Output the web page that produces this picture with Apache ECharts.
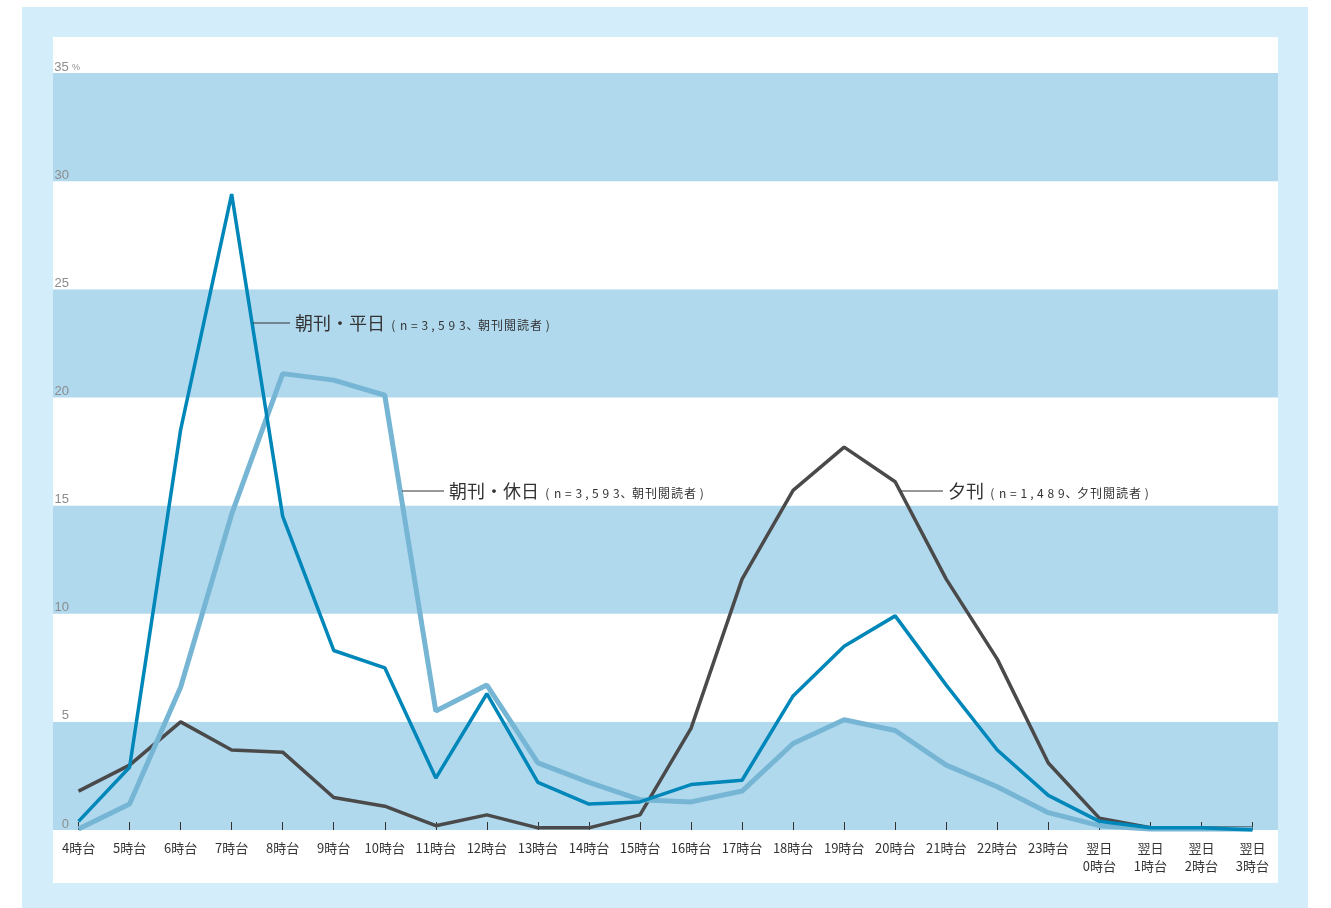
<!DOCTYPE html>
<html lang="ja">
<head>
<meta charset="utf-8">
<title>新聞を読む時間帯</title>
<script src="https://cdn.jsdelivr.net/npm/echarts@6/dist/echarts.min.js"></script>
<style>
  html, body { margin: 0; padding: 0; background: #ffffff; }
  #wrap { position: relative; width: 1331px; height: 908px; overflow: hidden; }
  #frame { position: absolute; left: 22px; top: 7px; width: 1286px; height: 910px; background: #d3eefa; }
  #panel { position: absolute; left: 53px; top: 37px; width: 1225px; height: 846px; background: #ffffff; }
  #chart { position: absolute; left: 0; top: 0; width: 1331px; height: 908px; }
</style>
</head>
<body>
<div id="wrap">
  <div id="frame"></div>
  <div id="panel"></div>
  <div id="chart"></div>
</div>
<script>
// Hour-of-day categories (4時台 through 翌日3時台)
const hours = [
  '4時台', '5時台', '6時台', '7時台', '8時台', '9時台', '10時台', '11時台',
  '12時台', '13時台', '14時台', '15時台', '16時台', '17時台', '18時台', '19時台',
  '20時台', '21時台', '22時台', '23時台', '翌日\n0時台', '翌日\n1時台', '翌日\n2時台', '翌日\n3時台'
];

// Share of readers by time slot (%)
const morningWeekday = [0.4, 2.9, 18.5, 29.4, 14.5, 8.3, 7.5, 2.4, 6.3, 2.2, 1.2, 1.3,
  2.1, 2.3, 6.2, 8.5, 9.9, 6.7, 3.7, 1.6, 0.4, 0.1, 0.1, 0.0];
const morningHoliday = [0.05, 1.2, 6.6, 14.6, 21.1, 20.8, 20.1, 5.5, 6.7, 3.1, 2.2, 1.4,
  1.3, 1.8, 4.0, 5.1, 4.6, 3.0, 2.0, 0.8, 0.2, 0.05, 0.05, 0.05];
const evening = [1.8, 3.0, 5.0, 3.7, 3.6, 1.5, 1.1, 0.2, 0.7, 0.1, 0.1, 0.7,
  4.7, 11.6, 15.7, 17.7, 16.1, 11.6, 7.9, 3.1, 0.55, 0.1, 0.1, 0.1];

// Value-axis ticks
const yTicks = [0, 5, 10, 15, 20, 25, 30, 35];

// Series captions
const captions = [
  { title: '朝刊・平日', note: '(n=3,593、朝刊閲読者)' },
  { title: '朝刊・休日', note: '(n=3,593、朝刊閲読者)' },
  { title: '夕刊', note: '(n=1,489、夕刊閲読者)' }
];

const FONT = '"Noto Sans CJK JP", "Noto Sans", sans-serif';
const chart = echarts.init(document.getElementById('chart'), null, { renderer: 'canvas' });

// Lay the small note out one glyph per cell so it keeps its airy tracking
function spacedNote(text) {
  let out = '';
  for (const ch of text) {
    let style = 'd';
    if (ch === ',') style = 'c';
    else if (ch === '、') style = 't';
    else if (ch.charCodeAt(0) > 0x2000) style = 'k';
    out += '{' + style + '|' + ch + '}';
  }
  return out;
}

function caption(c, lineX1, lineX2, y) {
  const small = { fontSize: 12, fontFamily: FONT, fill: '#333333', align: 'center', padding: [4, 0, 0, 0] };
  return [
    { type: 'line', shape: { x1: lineX1, y1: y, x2: lineX2, y2: y },
      style: { stroke: '#333333', lineWidth: 1 }, z: 20 },
    { type: 'text', x: lineX2 + 5, y: y, z: 20,
      style: {
        text: '{a|' + c.title + '}' + spacedNote(c.note),
        verticalAlign: 'middle',
        rich: {
          a: { fontSize: 18, fontFamily: FONT, fill: '#333333', padding: [0, 3, 0, 0] },
          d: Object.assign({ width: 10.5 }, small),
          c: Object.assign({ width: 6 }, small),
          t: Object.assign({ width: 10 }, small),
          k: Object.assign({ width: 13 }, small)
        }
      } }
  ];
}

const option = {
  backgroundColor: 'transparent',
  animation: false,
  textStyle: { fontFamily: FONT },
  grid: { left: 53, right: 53, top: 73, bottom: 78, containLabel: false },
  xAxis: {
    type: 'category',
    data: hours,
    boundaryGap: true,
    axisLine: { show: false },
    axisTick: { show: true, inside: true, length: 8, alignWithLabel: true,
      lineStyle: { color: '#333333', width: 1 } },
    axisLabel: { interval: 0, margin: 9, fontSize: 13, lineHeight: 18, color: '#333333', fontFamily: FONT },
    splitLine: { show: false }
  },
  yAxis: {
    type: 'value',
    min: yTicks[0],
    max: yTicks[yTicks.length - 1],
    interval: yTicks[1] - yTicks[0],
    axisLine: { show: false },
    axisTick: { show: false },
    splitLine: { show: false },
    splitArea: { show: true, areaStyle: { color: ['#b0d9ee', '#ffffff'] } },
    axisLabel: {
      inside: true,
      margin: 1,
      align: 'left',
      verticalAlign: 'bottom',
      formatter: function (v) {
        return '{n|' + v + '}' + (v === yTicks[yTicks.length - 1] ? '{p|%}' : '');
      },
      rich: {
        n: { fontSize: 13, lineHeight: 12, color: '#8c8c8c', width: 15, align: 'right',
          fontFamily: 'Liberation Sans, Arial, sans-serif' },
        p: { fontSize: 9, lineHeight: 12, color: '#8c8c8c', padding: [2, 0, 0, 3],
          fontFamily: 'Liberation Sans, Arial, sans-serif' }
      }
    }
  },
  series: [
    { name: '夕刊', type: 'line', data: evening, symbol: 'none',
      lineStyle: { color: '#4a4a4a', width: 3.5 }, z: 3 },
    { name: '朝刊・休日', type: 'line', data: morningHoliday, symbol: 'none',
      lineStyle: { color: '#76b6d4', width: 5 }, z: 4 },
    { name: '朝刊・平日', type: 'line', data: morningWeekday, symbol: 'none',
      lineStyle: { color: '#0087b9', width: 3.5 }, z: 5 }
  ],
  graphic: [].concat(
    caption(captions[0], 253, 290, 323),
    caption(captions[1], 402, 444, 491),
    caption(captions[2], 901, 943, 491)
  )
};

chart.setOption(option);
</script>
</body>
</html>
